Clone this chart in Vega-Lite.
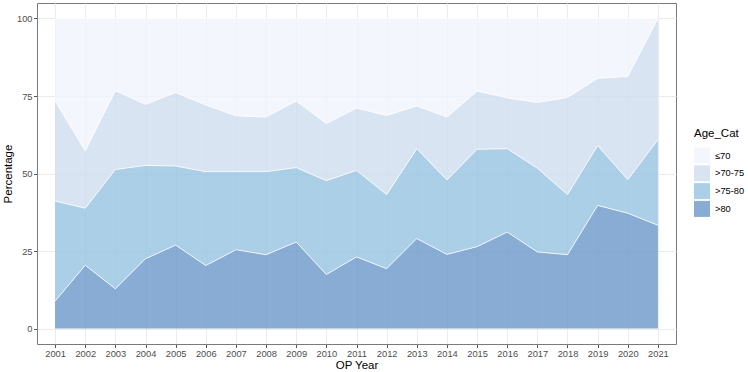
{
  "$schema": "https://vega.github.io/schema/vega-lite/v6.json",
  "autosize": {"type": "none"},
  "padding": {"left": 37, "top": 3, "right": 72, "bottom": 27},
  "width": 639,
  "height": 341,
  "background": "white",
  "config": {
    "font": "Liberation Sans",
    "view": {"stroke": "#7a7a7a", "strokeWidth": 1},
    "axis": {
      "gridColor": "#ebebeb",
      "gridWidth": 1,
      "domain": false,
      "tickColor": "#555555",
      "tickSize": 3.5,
      "labelColor": "#4d4d4d",
      "labelFontSize": 9.3,
      "labelFont": "Liberation Sans",
      "titleFont": "Liberation Sans",
      "titleFontSize": 11.5,
      "titleFontWeight": "normal",
      "titleColor": "black"
    }
  },
  "data": {
    "values": [
      {"year": 2001, "Age_Cat": ">80", "pct": 8.8}, {"year": 2001, "Age_Cat": ">75-80", "pct": 32.3}, {"year": 2001, "Age_Cat": ">70-75", "pct": 32.3}, {"year": 2001, "Age_Cat": "≤70", "pct": 26.6},
      {"year": 2002, "Age_Cat": ">80", "pct": 20.4}, {"year": 2002, "Age_Cat": ">75-80", "pct": 18.4}, {"year": 2002, "Age_Cat": ">70-75", "pct": 18.5}, {"year": 2002, "Age_Cat": "≤70", "pct": 42.7},
      {"year": 2003, "Age_Cat": ">80", "pct": 12.8}, {"year": 2003, "Age_Cat": ">75-80", "pct": 38.5}, {"year": 2003, "Age_Cat": ">70-75", "pct": 25.4}, {"year": 2003, "Age_Cat": "≤70", "pct": 23.3},
      {"year": 2004, "Age_Cat": ">80", "pct": 22.5}, {"year": 2004, "Age_Cat": ">75-80", "pct": 30.1}, {"year": 2004, "Age_Cat": ">70-75", "pct": 19.7}, {"year": 2004, "Age_Cat": "≤70", "pct": 27.7},
      {"year": 2005, "Age_Cat": ">80", "pct": 26.9}, {"year": 2005, "Age_Cat": ">75-80", "pct": 25.5}, {"year": 2005, "Age_Cat": ">70-75", "pct": 23.7}, {"year": 2005, "Age_Cat": "≤70", "pct": 23.9},
      {"year": 2006, "Age_Cat": ">80", "pct": 20.3}, {"year": 2006, "Age_Cat": ">75-80", "pct": 30.3}, {"year": 2006, "Age_Cat": ">70-75", "pct": 21.5}, {"year": 2006, "Age_Cat": "≤70", "pct": 27.9},
      {"year": 2007, "Age_Cat": ">80", "pct": 25.4}, {"year": 2007, "Age_Cat": ">75-80", "pct": 25.2}, {"year": 2007, "Age_Cat": ">70-75", "pct": 18.0}, {"year": 2007, "Age_Cat": "≤70", "pct": 31.4},
      {"year": 2008, "Age_Cat": ">80", "pct": 23.8}, {"year": 2008, "Age_Cat": ">75-80", "pct": 26.8}, {"year": 2008, "Age_Cat": ">70-75", "pct": 17.6}, {"year": 2008, "Age_Cat": "≤70", "pct": 31.8},
      {"year": 2009, "Age_Cat": ">80", "pct": 27.9}, {"year": 2009, "Age_Cat": ">75-80", "pct": 24.0}, {"year": 2009, "Age_Cat": ">70-75", "pct": 21.5}, {"year": 2009, "Age_Cat": "≤70", "pct": 26.6},
      {"year": 2010, "Age_Cat": ">80", "pct": 17.4}, {"year": 2010, "Age_Cat": ">75-80", "pct": 30.3}, {"year": 2010, "Age_Cat": ">70-75", "pct": 18.4}, {"year": 2010, "Age_Cat": "≤70", "pct": 33.9},
      {"year": 2011, "Age_Cat": ">80", "pct": 23.1}, {"year": 2011, "Age_Cat": ">75-80", "pct": 27.9}, {"year": 2011, "Age_Cat": ">70-75", "pct": 20.1}, {"year": 2011, "Age_Cat": "≤70", "pct": 28.9},
      {"year": 2012, "Age_Cat": ">80", "pct": 19.3}, {"year": 2012, "Age_Cat": ">75-80", "pct": 23.9}, {"year": 2012, "Age_Cat": ">70-75", "pct": 25.5}, {"year": 2012, "Age_Cat": "≤70", "pct": 31.3},
      {"year": 2013, "Age_Cat": ">80", "pct": 29.0}, {"year": 2013, "Age_Cat": ">75-80", "pct": 29.0}, {"year": 2013, "Age_Cat": ">70-75", "pct": 13.8}, {"year": 2013, "Age_Cat": "≤70", "pct": 28.2},
      {"year": 2014, "Age_Cat": ">80", "pct": 23.9}, {"year": 2014, "Age_Cat": ">75-80", "pct": 24.0}, {"year": 2014, "Age_Cat": ">70-75", "pct": 20.3}, {"year": 2014, "Age_Cat": "≤70", "pct": 31.8},
      {"year": 2015, "Age_Cat": ">80", "pct": 26.4}, {"year": 2015, "Age_Cat": ">75-80", "pct": 31.4}, {"year": 2015, "Age_Cat": ">70-75", "pct": 18.8}, {"year": 2015, "Age_Cat": "≤70", "pct": 23.4},
      {"year": 2016, "Age_Cat": ">80", "pct": 31.1}, {"year": 2016, "Age_Cat": ">75-80", "pct": 26.9}, {"year": 2016, "Age_Cat": ">70-75", "pct": 16.4}, {"year": 2016, "Age_Cat": "≤70", "pct": 25.6},
      {"year": 2017, "Age_Cat": ">80", "pct": 24.7}, {"year": 2017, "Age_Cat": ">75-80", "pct": 27.0}, {"year": 2017, "Age_Cat": ">70-75", "pct": 21.2}, {"year": 2017, "Age_Cat": "≤70", "pct": 27.1},
      {"year": 2018, "Age_Cat": ">80", "pct": 23.8}, {"year": 2018, "Age_Cat": ">75-80", "pct": 19.4}, {"year": 2018, "Age_Cat": ">70-75", "pct": 31.3}, {"year": 2018, "Age_Cat": "≤70", "pct": 25.5},
      {"year": 2019, "Age_Cat": ">80", "pct": 39.7}, {"year": 2019, "Age_Cat": ">75-80", "pct": 19.3}, {"year": 2019, "Age_Cat": ">70-75", "pct": 21.7}, {"year": 2019, "Age_Cat": "≤70", "pct": 19.3},
      {"year": 2020, "Age_Cat": ">80", "pct": 37.2}, {"year": 2020, "Age_Cat": ">75-80", "pct": 10.8}, {"year": 2020, "Age_Cat": ">70-75", "pct": 33.3}, {"year": 2020, "Age_Cat": "≤70", "pct": 18.7},
      {"year": 2021, "Age_Cat": ">80", "pct": 33.3}, {"year": 2021, "Age_Cat": ">75-80", "pct": 27.6}, {"year": 2021, "Age_Cat": ">70-75", "pct": 39.1}, {"year": 2021, "Age_Cat": "≤70", "pct": 0.0}
    ]
  },
  "transform": [
    {"calculate": "indexof(['>80','>75-80','>70-75','≤70'], datum.Age_Cat)", "as": "stackRank"}
  ],
  "resolve": {"axis": {"y": "independent"}},
  "layer": [
    {
      "mark": {"type": "area", "opacity": 0.8, "line": {"stroke": "white", "strokeWidth": 0.8, "opacity": 1}},
      "encoding": {
        "x": {
          "field": "year", "type": "quantitative",
          "scale": {"domain": [2000.4, 2021.6], "nice": false, "zero": false},
          "axis": {"values": [2001,2002,2003,2004,2005,2006,2007,2008,2009,2010,2011,2012,2013,2014,2015,2016,2017,2018,2019,2020,2021], "format": "d", "title": "OP Year", "labelPadding": 1.5, "titlePadding": 1.5, "labelOverlap": false, "labelFlush": false}
        },
        "y": {
          "field": "pct", "type": "quantitative", "stack": "zero",
          "scale": {"domain": [-5, 105], "nice": false, "zero": false},
          "axis": {"orient": "left", "values": [0, 25, 50, 75, 100], "title": "Percentage", "labelPadding": 1.5, "titlePadding": 3}
        },
        "order": {"field": "stackRank", "type": "quantitative", "sort": "ascending"},
        "color": {
          "field": "Age_Cat", "type": "nominal",
          "scale": {"domain": ["≤70", ">70-75", ">75-80", ">80"], "range": ["#f0f5fd", "#cedded", "#96c3e1", "#6a97c8"]},
          "legend": {
            "title": "Age_Cat", "orient": "none", "legendX": 657, "legendY": 125,
            "symbolType": "square", "symbolSize": 256, "symbolOpacity": 0.8, "symbolStrokeWidth": 0,
            "titleFontSize": 11.5, "titleFontWeight": "normal", "titleFont": "Liberation Sans", "titlePadding": 8,
            "labelFontSize": 9.3, "labelFont": "Liberation Sans", "labelColor": "black", "labelOffset": 5,
            "rowPadding": 1.8
          }
        }
      }
    },
    {
      "mark": {"type": "area", "opacity": 0, "tooltip": false},
      "encoding": {
        "x": {
          "field": "year", "type": "quantitative",
          "scale": {"domain": [2000.4, 2021.6], "nice": false, "zero": false},
          "axis": {"values": [2001,2002,2003,2004,2005,2006,2007,2008,2009,2010,2011,2012,2013,2014,2015,2016,2017,2018,2019,2020,2021], "format": "d", "title": "OP Year", "labelPadding": 1.5, "titlePadding": 1.5, "labelOverlap": false, "labelFlush": false}
        },
        "y": {
          "field": "pct", "type": "quantitative", "aggregate": "sum",
          "scale": {"domain": [-5, 105], "nice": false, "zero": false},
          "axis": {"orient": "left", "values": [12.5, 37.5, 62.5, 87.5], "labels": false, "ticks": false, "title": null, "gridWidth": 0.5, "gridColor": "#ebebeb"}
        }
      }
    }
  ]
}
